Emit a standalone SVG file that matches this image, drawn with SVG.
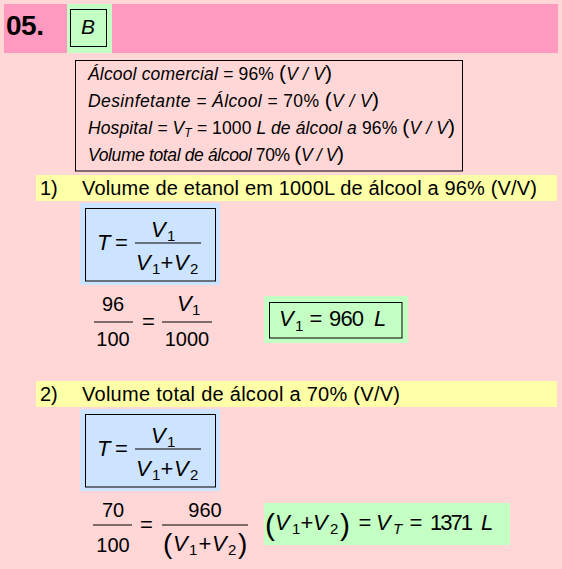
<svg xmlns="http://www.w3.org/2000/svg" width="562" height="569" viewBox="0 0 562 569">
<style>
text { font-family: "Liberation Sans", Arial, sans-serif; fill: #000; }
.it { font-style: italic; }
.up { font-style: normal; }
.info { font-size: 17.5px; font-style: italic; }
.par { font-size: 21px; font-style: normal; }
.bar { font-size: 20px; }
.m { font-size: 22px; }
.mv { font-size: 22px; font-style: italic; }
.sub { font-size: 15px; }
.num { font-size: 20px; }
.yellow { fill: #FFFFA8; }
.green { fill: #C4FFC4; }
.blue { fill: #CCE4FF; }
.frame { fill: none; stroke: #000; stroke-width: 1; }
.fl { stroke: #000; stroke-width: 1.2; }
</style>
<rect x="0" y="0" width="562" height="569" fill="#FFD7D7"/>

<g id="header">
  <rect x="4" y="4" width="554" height="49" fill="#FF99BF"/>
  <text x="6" y="35" font-size="28" font-weight="bold" textLength="38">05.</text>
</g>

<g id="answer">
  <rect x="67" y="4" width="45" height="49" class="green"/>
  <rect x="70.5" y="9.5" width="36" height="37" class="frame"/>
  <text x="88" y="34" font-size="21" class="it" text-anchor="middle">B</text>
</g>

<g id="data-box">
  <rect x="75.5" y="60.5" width="387" height="110.5" class="frame"/>
  <text x="88" y="80" class="info" textLength="244">Álcool comercial = <tspan class="up">96%</tspan> <tspan class="par">(</tspan>V / V<tspan class="par">)</tspan></text>
  <text x="88" y="107" class="info" textLength="291">Desinfetante = Álcool = <tspan class="up">70%</tspan> <tspan class="par">(</tspan>V / V<tspan class="par">)</tspan></text>
  <text x="88" y="134" class="info" textLength="367">Hospital = V<tspan font-size="12" dy="3">T</tspan><tspan dy="-3"> = </tspan><tspan class="up">1000</tspan> L de álcool a <tspan class="up">96%</tspan> <tspan class="par">(</tspan>V / V<tspan class="par">)</tspan></text>
  <text x="88" y="161" class="info" textLength="256">Volume total de álcool <tspan class="up">70%</tspan> <tspan class="par">(</tspan>V / V<tspan class="par">)</tspan></text>
</g>

<g id="step1-title">
  <rect x="36" y="175" width="521" height="26" class="yellow"/>
  <text x="40" y="195" class="bar">1)</text>
  <text x="82" y="195" class="bar" textLength="455">Volume de etanol em 1000L de álcool a 96% (V/V)</text>
</g>

<g id="step1-formula">
  <rect x="80" y="203" width="140" height="82" class="blue"/>
  <rect x="85.5" y="208.5" width="130" height="72.5" class="frame"/>
  <text x="97" y="250" class="mv">T</text>
  <text x="121.5" y="250" class="m" text-anchor="middle">=</text>
  <line x1="135" y1="243" x2="201" y2="243" class="fl"/>
  <text x="151" y="237" class="mv">V</text>
  <text x="167" y="241" class="sub">1</text>
  <text x="136" y="270" class="mv">V</text>
  <text x="152" y="274" class="sub">1</text>
  <text x="167" y="270" class="m" text-anchor="middle">+</text>
  <text x="174" y="270" class="mv">V</text>
  <text x="190" y="274" class="sub">2</text>
</g>

<g id="step1-calc">
  <text x="113" y="311" class="num" text-anchor="middle">96</text>
  <line x1="94" y1="322" x2="133" y2="322" class="fl"/>
  <text x="113" y="346" class="num" text-anchor="middle">100</text>
  <text x="148.5" y="329" class="m" text-anchor="middle">=</text>
  <line x1="162" y1="322" x2="212" y2="322" class="fl"/>
  <text x="177" y="311" class="mv" font-size="21">V</text>
  <text x="192" y="315" class="sub" font-size="14">1</text>
  <text x="187" y="346" class="num" text-anchor="middle">1000</text>
</g>

<g id="step1-result">
  <rect x="264" y="296" width="144" height="47" class="green"/>
  <rect x="269.5" y="302.5" width="132.5" height="35.5" class="frame"/>
  <text x="279" y="326" class="mv">V</text>
  <text x="295" y="331" class="sub">1</text>
  <text x="316" y="326" class="m" text-anchor="middle">=</text>
  <text x="329" y="326" class="m" textLength="35">960</text>
  <text x="374" y="326" class="mv">L</text>
</g>

<g id="step2-title">
  <rect x="36" y="381" width="521" height="26" class="yellow"/>
  <text x="40" y="401" class="bar">2)</text>
  <text x="82" y="401" class="bar" textLength="318">Volume total de álcool a 70% (V/V)</text>
</g>

<g id="step2-formula">
  <rect x="80" y="409" width="140" height="82" class="blue"/>
  <rect x="85.5" y="414.5" width="130" height="72.5" class="frame"/>
  <text x="97" y="456" class="mv">T</text>
  <text x="121.5" y="456" class="m" text-anchor="middle">=</text>
  <line x1="135" y1="449" x2="201" y2="449" class="fl"/>
  <text x="151" y="443" class="mv">V</text>
  <text x="167" y="447" class="sub">1</text>
  <text x="136" y="476" class="mv">V</text>
  <text x="152" y="480" class="sub">1</text>
  <text x="167" y="476" class="m" text-anchor="middle">+</text>
  <text x="174" y="476" class="mv">V</text>
  <text x="190" y="480" class="sub">2</text>
</g>

<g id="step2-calc">
  <text x="113" y="517" class="num" text-anchor="middle">70</text>
  <line x1="93" y1="525" x2="132" y2="525" class="fl"/>
  <text x="113" y="552" class="num" text-anchor="middle">100</text>
  <text x="146.5" y="532" class="m" text-anchor="middle">=</text>
  <line x1="162" y1="525" x2="248" y2="525" class="fl"/>
  <text x="205" y="517" class="num" text-anchor="middle">960</text>
  <text x="163" y="553" font-size="28">(</text>
  <text x="173" y="551" class="mv">V</text>
  <text x="189" y="555" class="sub">1</text>
  <text x="205" y="551" class="m" text-anchor="middle">+</text>
  <text x="212" y="551" class="mv">V</text>
  <text x="228" y="555" class="sub">2</text>
  <text x="238" y="553" font-size="28">)</text>
</g>

<g id="step2-result">
  <rect x="264" y="503" width="246" height="42" class="green"/>
  <text x="265" y="535" font-size="30">(</text>
  <text x="275" y="530" class="mv">V</text>
  <text x="292" y="534" class="sub">1</text>
  <text x="307" y="530" class="m" text-anchor="middle">+</text>
  <text x="313" y="530" class="mv">V</text>
  <text x="330" y="534" class="sub">2</text>
  <text x="340" y="535" font-size="30">)</text>
  <text x="365" y="530" class="m" text-anchor="middle">=</text>
  <text x="376" y="530" class="mv">V</text>
  <text x="393" y="534" class="sub it">T</text>
  <text x="416" y="530" class="m" text-anchor="middle">=</text>
  <text x="430" y="530" class="m" textLength="43">1371</text>
  <text x="481" y="530" class="mv">L</text>
</g>
</svg>
